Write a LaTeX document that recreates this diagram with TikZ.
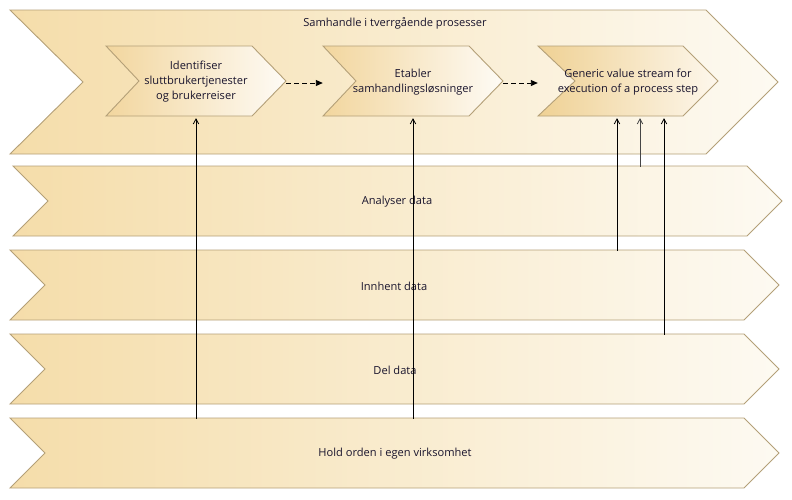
\documentclass[tikz,border=0pt]{standalone}
\usepackage{fontspec}
\setmainfont{Open Sans}
\usetikzlibrary{arrows.meta,calc}
\definecolor{tanL}{RGB}{245,221,170}
\definecolor{paleR}{RGB}{253,250,242}
\definecolor{tanC}{RGB}{242,214,158}
\definecolor{whiteC}{RGB}{254,251,245}
\definecolor{tanD}{RGB}{239,209,148}
\definecolor{paleD}{RGB}{253,247,236}
\definecolor{edge}{RGB}{180,160,120}
\definecolor{txt}{RGB}{25,20,45}
\definecolor{grayarrow}{RGB}{70,70,70}
\newcommand{\chevshape}[7]{%
  \path[#7] (#1,#2) -- (#3,#2) -- ({#3+#5},{(#2+#4)/2}) -- (#3,#4) -- (#1,#4) -- ({#1+#6},{(#2+#4)/2}) -- cycle;}
\tikzset{
  rowfill/.style={draw=edge, line width=0.9pt, left color=tanL, right color=paleR},
  innerfill/.style={draw=edge, line width=0.9pt, left color=tanC, right color=whiteC},
  thirdfill/.style={draw=edge, line width=0.9pt, left color=tanD, right color=paleD},
  lbl/.style={text=txt, font=\fontsize{11.1}{15}\selectfont, inner sep=0pt, align=center},
  rowlbl/.style={lbl, minimum height=70pt},
  chevlbl/.style={lbl, minimum width=180pt, minimum height=70pt},
  varrow/.style={line width=0.85pt, -{Straight Barb[length=5pt,width=5.5pt,line width=0.8pt]}},
  garrow/.style={line width=0.8pt, draw=grayarrow, -{Straight Barb[length=5pt,width=5.5pt,line width=0.8pt]}},
  darrow/.style={line width=0.9pt, dash pattern=on 5pt off 3pt, -{Triangle[length=7pt,width=6pt]}}
}
\begin{document}
\begin{tikzpicture}[x=1pt,y=-1pt]
\useasboundingbox (0,0) rectangle (792,499);
% big chevrons
\chevshape{10}{10}{706}{154}{72}{73}{rowfill}
\chevshape{13}{166}{747}{236}{35}{35}{rowfill}
\chevshape{10}{250}{744}{320}{35}{35}{rowfill}
\chevshape{10}{334}{744}{404}{35}{35}{rowfill}
\chevshape{10}{418}{744}{488}{35}{35}{rowfill}
% inner chevrons
\chevshape{106}{46}{252}{116}{34}{33}{innerfill}
\chevshape{323}{46}{469}{116}{34}{33}{innerfill}
\chevshape{538}{46}{683}{116}{35}{37}{thirdfill}
% labels
\node[lbl, anchor=center] (top) at (395,23) {Samhandle i tverrgående prosesser};
\node[rowlbl] (analyser) at (397,202) {Analyser data};
\node[rowlbl] (innhent) at (394,286) {Innhent data};
\node[rowlbl] (del) at (395,370) {Del data};
\node[rowlbl] (hold) at (395,454) {Hold orden i egen virksomhet};
\node[chevlbl] (c1) at (196,82) {Identifiser\\sluttbrukertjenester\\og brukerreiser};
\node[chevlbl] (c2) at (413,82) {Etabler\\samhandlingsløsninger};
\node[chevlbl] (c3) at (628,82) {Generic value stream for\\execution of a process step};
% connectors
\draw[darrow] ([yshift=-1pt]c1.east) -- ([yshift=-1pt]c2.west);
\draw[darrow] ([yshift=-1pt]c2.east) -- ([yshift=-1pt]c3.west);
\draw[varrow] (hold.north -| c1.south) -- ([yshift=-1pt]c1.south);
\draw[varrow] (hold.north -| c2.south) -- ([yshift=-1pt]c2.south);
\draw[varrow] ([xshift=-11pt]c3.south |- innhent.north) -- ([xshift=-11pt,yshift=-1pt]c3.south);
\draw[garrow] ([xshift=12pt]c3.south |- analyser.north) -- ([xshift=12pt,yshift=-1pt]c3.south);
\draw[varrow] ([xshift=36pt]c3.south |- del.north) -- ([xshift=36pt,yshift=-1pt]c3.south);
\end{tikzpicture}
\end{document}
